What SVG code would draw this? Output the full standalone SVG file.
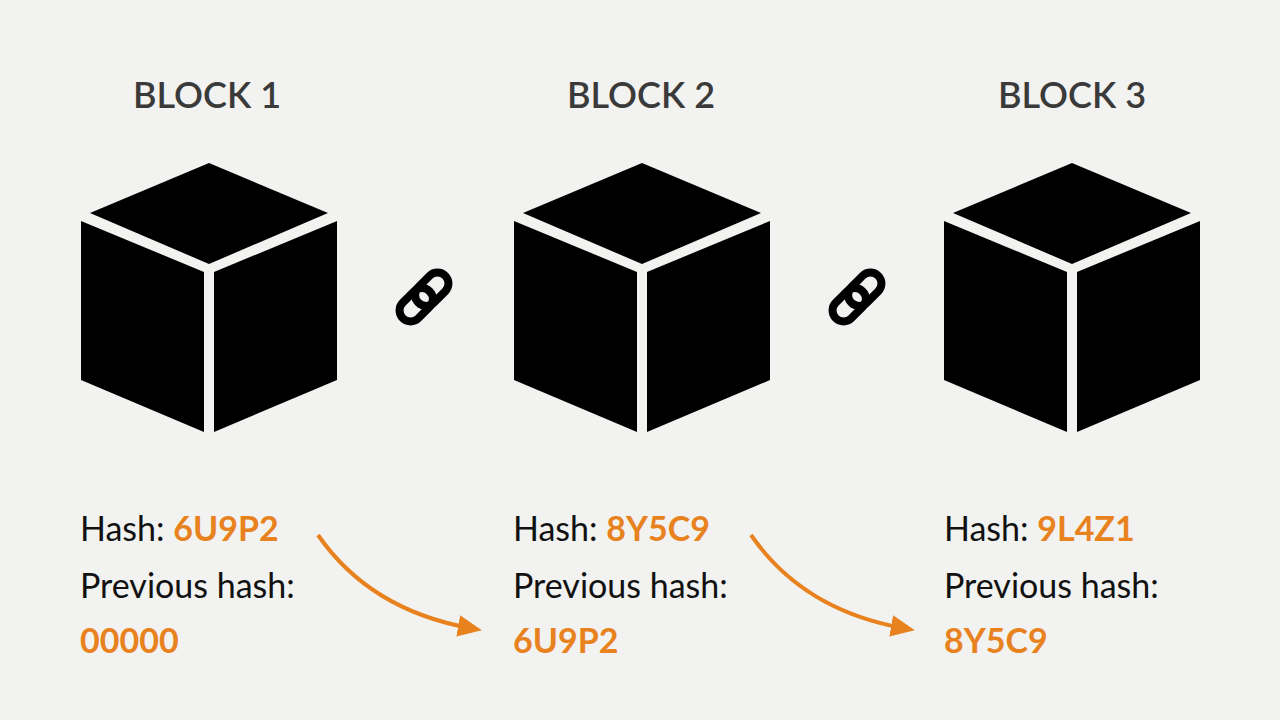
<svg xmlns="http://www.w3.org/2000/svg" width="1280" height="720" viewBox="0 0 1280 720">
<style>
.t{font-family:Lato,"Liberation Sans",sans-serif;font-size:36px;fill:#3a3a3a;text-anchor:middle;font-weight:600}
.l{font-family:Lato,"Liberation Sans",sans-serif;font-size:34px;fill:#111}
.o{fill:#E8821E;font-weight:bold}
.c{fill:#000}
.arr{fill:none;stroke:#E8821E;stroke-width:4;marker-end:url(#ah)}
.link{fill:none;stroke:#000;stroke-width:8}
</style>
<defs>
<marker id="ah" markerWidth="6" markerHeight="6" refX="3" refY="3" orient="auto" markerUnits="strokeWidth"><path d="M0,0.3L6,3L0,5.7z" fill="#E8821E"/></marker>
<g id="cube">
<polygon class="c" points="209,163 328,213 209,264 90,213"/>
<polygon class="c" points="81,221 204,272 204,432 81,380"/>
<polygon class="c" points="214,272 337,221 337,380 214,432"/>
</g>
<g id="chain">
<rect x="-30" y="-11" width="38" height="22" rx="11" class="link" transform="rotate(-45)"/>
<rect x="-8" y="-11" width="38" height="22" rx="11" class="link" transform="rotate(-45)"/>
</g>
</defs>
<rect width="1280" height="720" fill="#f2f2f0"/>
<g id="block1"><text class="t" x="207" y="108">BLOCK 1</text><use href="#cube"/>
<text class="l" x="80" y="541">Hash: <tspan class="o">6U9P2</tspan></text>
<text class="l" x="80" y="598">Previous hash:</text>
<text class="l o" x="80" y="653">00000</text></g>
<g id="block2"><text class="t" x="641" y="108">BLOCK 2</text><use href="#cube" x="433"/>
<text class="l" x="513" y="541">Hash: <tspan class="o">8Y5C9</tspan></text>
<text class="l" x="513" y="598">Previous hash:</text>
<text class="l o" x="513" y="653">6U9P2</text></g>
<g id="block3"><text class="t" x="1072" y="108">BLOCK 3</text><use href="#cube" x="863"/>
<text class="l" x="944" y="541">Hash: <tspan class="o">9L4Z1</tspan></text>
<text class="l" x="944" y="598">Previous hash:</text>
<text class="l o" x="944" y="653">8Y5C9</text></g>
<g id="link1"><use href="#chain" transform="translate(424,297)"/></g>
<g id="link2"><use href="#chain" transform="translate(857,297)"/></g>
<g id="connectors">
<path class="arr" d="M318,535 Q370,610 470,628"/>
<path class="arr" d="M751,535 Q803,610 903,628"/>
</g>
</svg>
